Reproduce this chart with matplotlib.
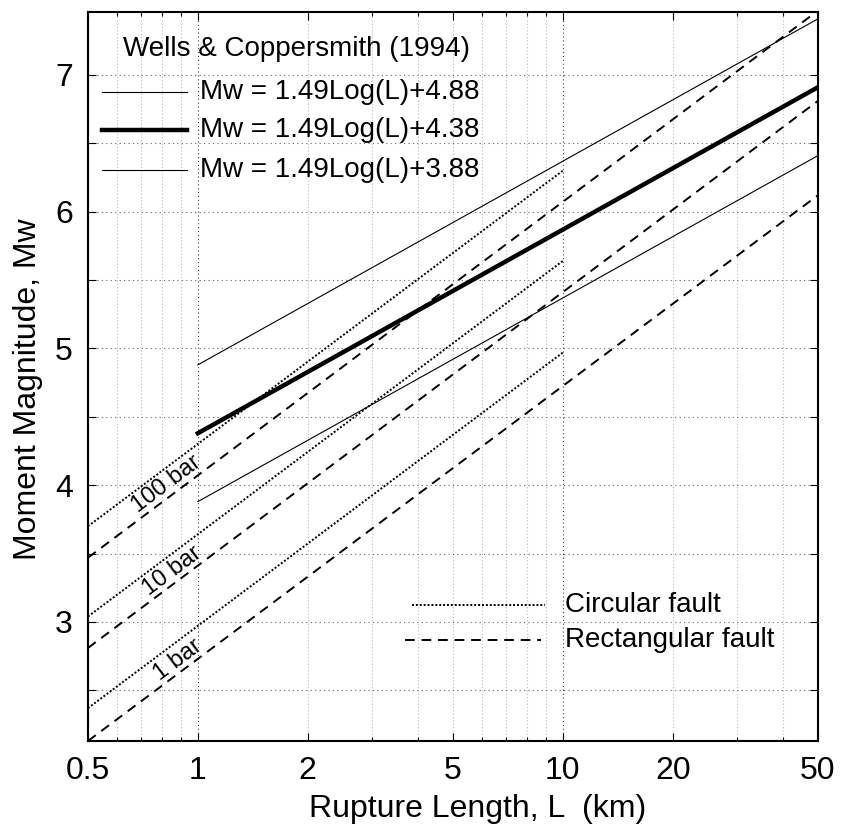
import matplotlib
matplotlib.use('Agg')
import matplotlib.pyplot as plt
import numpy as np

plt.rcParams['font.family'] = ['Liberation Sans', 'DejaVu Sans']

# Wells & Coppersmith (1994) relations, endpoints at L = 1 and 50 km
wc_L = [1, 50]
wc_upper = [4.88, 7.41]
wc_mean = [4.38, 6.91]
wc_lower = [3.88, 6.41]

# circular fault, L = 0.5 .. 10 km
circ_L = [0.5, 10]
circ_100 = [3.70, 6.30]
circ_10 = [3.04, 5.64]
circ_1 = [2.37, 4.97]

# rectangular fault, L = 0.5 .. 50 km
rect_L = [0.5, 50]
rect_100 = [3.47, 7.47]
rect_10 = [2.81, 6.81]
rect_1 = [2.13, 6.12]

stress_labels = ['100 bar', '10 bar', '1 bar']
stress_pos = [(0.82, 4.01), (0.85, 3.375), (0.88, 2.72)]

xticks = [0.5, 1, 2, 5, 10, 20, 50]
xminor = [0.6, 0.7, 0.8, 0.9, 3, 4, 6, 7, 8, 9, 30, 40]
yticks = [3, 4, 5, 6, 7]
yminor = [2.5, 3.5, 4.5, 5.5, 6.5]

fig = plt.figure(figsize=(8.41, 8.27), dpi=100)
ax = fig.add_axes([0.1046, 0.104, 0.868, 0.8815])

# grid
for x in xticks + xminor:
    if x in (1, 10):
        ax.axvline(x, color='#444444', lw=0.8, ls=(0, (1, 2.5)), zorder=0)
    else:
        ax.axvline(x, color='#bbbbbb', lw=0.8, ls=(0, (1, 2)), zorder=0)
for y in yticks + yminor:
    ax.axhline(y, color='#666666', lw=0.8, ls=(0, (1, 3)), zorder=0)

ax.plot(wc_L, wc_upper, color='k', lw=0.8)
ax.plot(wc_L, wc_mean, color='k', lw=3.2)
ax.plot(wc_L, wc_lower, color='k', lw=0.8)

dot = (0, (1, 1))
dash = (0, (5, 3.5))
for m in (circ_100, circ_10, circ_1):
    ax.plot(circ_L, m, color='k', lw=1.4, ls=dot)
for m in (rect_100, rect_10, rect_1):
    ax.plot(rect_L, m, color='k', lw=1.4, ls=dash)

ax.set_xscale('log')
ax.set_xlim(0.5, 50)
ax.set_ylim(2.13, 7.46)
ax.set_xticks(xticks)
ax.set_xticklabels(['0.5', '1', '2', '5', '10', '20', '50'])
ax.set_xticks(xminor, minor=True)
ax.set_xticklabels([], minor=True)
ax.set_yticks(yticks)
ax.set_yticks(yminor, minor=True)
ax.tick_params(which='both', direction='in', top=True, right=True,
               labelsize=23, width=0.8)
ax.tick_params(axis='x', which='major', length=6, pad=11)
ax.tick_params(axis='y', which='both', length=6, pad=11)
ax.tick_params(axis='x', which='minor', length=3)
for s in ax.spines.values():
    s.set_linewidth(1.5)

ax.set_xlabel('Rupture Length, L  (km)', fontsize=23)
ax.xaxis.set_label_coords(0.534, -0.073)
ax.set_ylabel('Moment Magnitude, Mw', fontsize=23)
ax.yaxis.set_label_coords(-0.062, 0.483)

# stress drop labels
ang = 36.9
for t, (lx, ly) in zip(stress_labels, stress_pos):
    ax.text(lx, ly, t, rotation=ang, fontsize=17, ha='center', va='center',
            rotation_mode='anchor')

# legends drawn as lines + text in axes coords
tr = ax.transAxes
ax.text(0.048, 0.949, 'Wells & Coppersmith (1994)', transform=tr, fontsize=20, va='center')
leg_y = [0.890, 0.838, 0.783]
leg_lw = [0.8, 3.2, 0.8]
leg_txt = ['Mw = 1.49Log(L)+4.88', 'Mw = 1.49Log(L)+4.38', 'Mw = 1.49Log(L)+3.88']
for yy, lw, t in zip(leg_y, leg_lw, leg_txt):
    ax.plot([0.019, 0.136], [yy, yy], color='k', lw=lw, transform=tr)
    ax.text(0.153, yy, t, transform=tr, fontsize=20, va='center')

ax.plot([0.444, 0.626], [0.187, 0.187], color='k', lw=1.4, ls=dot, transform=tr)
ax.text(0.654, 0.187, 'Circular fault', transform=tr, fontsize=20, va='center')
ax.plot([0.434, 0.62], [0.139, 0.139], color='k', lw=1.4, ls=dash, transform=tr)
ax.text(0.654, 0.139, 'Rectangular fault', transform=tr, fontsize=20, va='center')

fig.savefig('out.png', dpi=100)
